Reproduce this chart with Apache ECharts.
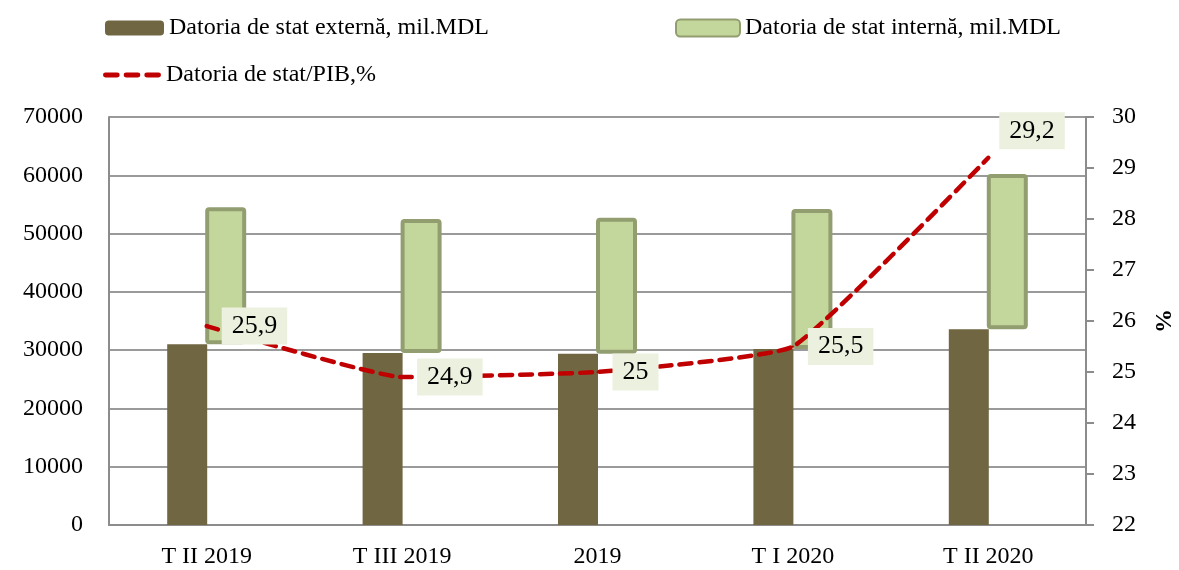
<!DOCTYPE html>
<html>
<head>
<meta charset="utf-8">
<script src="https://cdn.jsdelivr.net/npm/echarts@6/dist/echarts.min.js"></script>
<style>
  html, body { margin: 0; padding: 0; background: #fff; }
  #chart { width: 1179px; height: 570px; }
</style>
</head>
<body>
<div id="chart"></div>
<script>
// categorii
const categories = ['T II 2019', 'T III 2019', '2019', 'T I 2020', 'T II 2020']
// datoria externa, mil.MDL
const externalDebt = [31000, 29500, 29400, 30200, 33600]
// datoria interna, mil.MDL
const internalDebt = [23500, 23000, 23300, 24000, 26600]
// datoria de stat / PIB, %
const debtToGdp = [25.9, 24.9, 25, 25.5, 29.2]

const FONT = 'Liberation Serif'
const textStyle = { fontFamily: FONT, fontSize: 24, color: '#000' }

const chart = echarts.init(document.getElementById('chart'))

// eticheta ultimului punct sta mai sus
const lineData = debtToGdp.map((v, i) => {
  if (i === debtToGdp.length - 1) {
    return { value: v, label: { offset: [-4, -27] } }
  }
  return v
})

const option = {
  animation: false,
  textStyle: { fontFamily: FONT },
  legend: [
    {
      data: ['Datoria de stat externă, mil.MDL'],
      left: 100, top: 11,
      itemWidth: 59, itemHeight: 15, itemGap: 6,
      textStyle: textStyle
    },
    {
      data: ['Datoria de stat internă, mil.MDL'],
      left: 670, top: 11,
      itemWidth: 64, itemHeight: 17, itemGap: 6,
      textStyle: textStyle
    },
    {
      data: [{
        name: 'Datoria de stat/PIB,%',
        icon: 'path://M2,0h12a2.5,2.5 0 0 1 0,5h-12a2.5,2.5 0 0 1 0,-5z M23,0h12a2.5,2.5 0 0 1 0,5h-12a2.5,2.5 0 0 1 0,-5z M44,0h12a2.5,2.5 0 0 1 0,5h-12a2.5,2.5 0 0 1 0,-5z'
      }],
      left: 98, top: 58,
      itemWidth: 58, itemHeight: 5, itemGap: 10,
      textStyle: textStyle
    }
  ],
  grid: { left: 109, right: 93, top: 117, bottom: 45, containLabel: false, outerBoundsMode: 'none' },
  xAxis: {
    type: 'category',
    data: categories,
    axisLine: { lineStyle: { color: '#8c8c8c', width: 2 } },
    axisTick: { show: false },
    axisLabel: { ...textStyle, margin: 20 }
  },
  yAxis: [
    {
      type: 'value',
      min: 0, max: 70000, interval: 10000,
      axisLine: { show: true, lineStyle: { color: '#8c8c8c', width: 2 } },
      axisTick: { show: false },
      axisLabel: { ...textStyle, margin: 26, formatter: (v) => String(v) },
      splitLine: { lineStyle: { color: '#9a9a9a', width: 2 } }
    },
    {
      type: 'value',
      min: 22, max: 30, interval: 1,
      position: 'right',
      name: '%',
      nameLocation: 'middle',
      nameGap: 67,
      nameTextStyle: { fontFamily: FONT, fontSize: 24, fontWeight: 'bold', color: '#000' },
      axisLine: { show: true, lineStyle: { color: '#8c8c8c', width: 2 } },
      axisTick: { show: true, length: 8, lineStyle: { color: '#8c8c8c', width: 2 } },
      axisLabel: { ...textStyle, margin: 26 },
      splitLine: { show: false }
    }
  ],
  series: [
    {
      name: 'Datoria de stat externă, mil.MDL',
      type: 'bar',
      stack: 'ext',
      barWidth: 40,
      barGap: '-5%',
      data: externalDebt,
      itemStyle: { color: '#706641' }
    },
    {
      name: 'baza',
      type: 'bar',
      stack: 'int',
      barWidth: 41,
      silent: true,
      data: externalDebt,
      itemStyle: { color: 'transparent' }
    },
    {
      name: 'Datoria de stat internă, mil.MDL',
      type: 'bar',
      stack: 'int',
      barWidth: 41,
      data: internalDebt,
      itemStyle: {
        color: '#c3d69b',
        borderColor: '#929e70',
        borderWidth: 4,
        borderRadius: 2
      }
    },
    {
      name: 'Datoria de stat/PIB,%',
      type: 'line',
      yAxisIndex: 1,
      smooth: 0.12,
      symbol: 'circle',
      symbolSize: 2,
      showSymbol: true,
      data: lineData,
      lineStyle: { color: '#c00000', width: 4.5, type: [12, 8], cap: 'round' },
      itemStyle: { color: '#c00000' },
      label: {
        show: true,
        position: 'right',
        distance: 14,
        fontFamily: FONT,
        fontSize: 26,
        color: '#000',
        backgroundColor: '#ebf1de',
        padding: [7, 10, 4, 10],
        formatter: (p) => String(p.value).replace('.', ',')
      },
      z: 5
    }
  ]
}

chart.setOption(option)
</script>
</body>
</html>
